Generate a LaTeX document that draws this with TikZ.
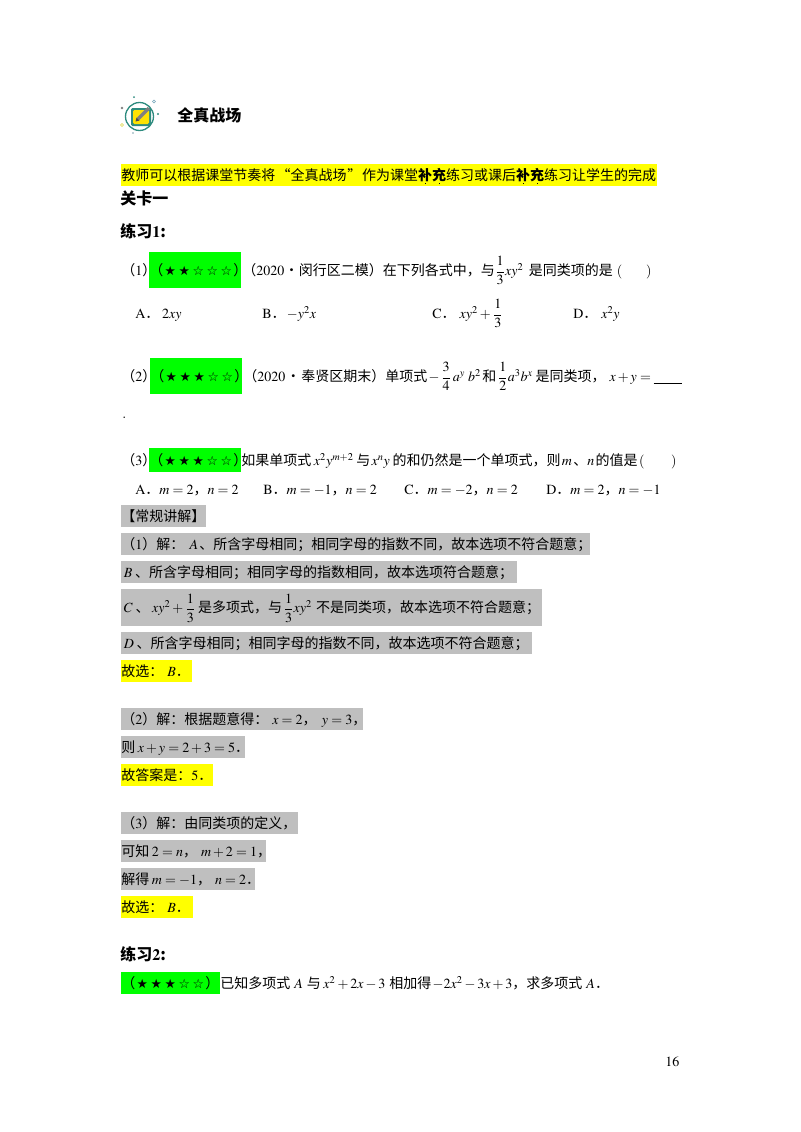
\documentclass[tikz,border=0pt]{standalone}
\usepackage{amsmath}
\usepackage{mathptmx}
\usepackage[no-math]{fontspec}
\setmainfont{Noto Sans CJK SC}
\newfontfamily\starfont{DejaVu Sans}
\definecolor{barcol}{HTML}{BFBFBF}
\definecolor{hlyellow}{HTML}{FFFF00}
\definecolor{hlgreen}{HTML}{00FF00}
\definecolor{ringcol}{HTML}{2E8B7F}
\newcommand{\bs}{\makebox[1em]{\starfont\fontsize{9.5}{10}\selectfont ★}}
\newcommand{\ws}{\makebox[1em]{\starfont\fontsize{9.5}{10}\selectfont ☆}}
\newcommand{\emdot}[1]{\rlap{\raisebox{-2.5pt}{\makebox[1em]{\rule{0.8pt}{0.8pt}}}}\textbf{#1}}
\newcommand{\gap}[1]{\hspace{#1pt}}
\tikzstyle{txt} = [anchor=west, inner sep=0pt, text height=10pt, text depth=2pt,
	font=\fontsize{10.5}{12}\selectfont]
\tikzstyle{head} = [txt, font=\fontsize{12}{12}\selectfont\bfseries]
\tikzstyle{graybar} = [txt, fill=barcol, text width=#1*0.75pt, minimum height=16.5pt]
\tikzstyle{yellowbar} = [txt, fill=hlyellow, text width=#1*0.75pt, minimum height=16.5pt]
\tikzstyle{greenbox} = [txt, fill=hlgreen, text width=#1*0.75pt, minimum height=27.5pt]
\begin{document}
\begin{tikzpicture}[x=0.75pt, y=-0.75pt]
	\useasboundingbox (0,0) rectangle (800,1132);

	\draw [ringcol, line width=1pt] (139.5,116.5) circle (14);
	\fill [ringcol, rounded corners=1pt] (131,108) rectangle (151,126);
	\fill [yellow!85!orange, rounded corners=1pt] (133,110) rectangle (149,124);
	\draw [gray, line width=2.6pt] (138,119) -- (149,108);
	\fill [gray!60!black] (135.5,121.5) -- (136.5,117.5) -- (139.5,120.5) -- cycle;
	\fill [ringcol] (134,97) circle (1);
	\fill [gray] (122,108) circle (1.3);
	\draw [cyan!40!gray, line width=0.4pt] (154,101.5) circle (1.5);
	\fill [ringcol] (158,114) circle (1.1);
	\draw [yellow!70!gray, line width=0.4pt] (122,125) circle (1.5);
	\fill [cyan!30!gray] (133,133) circle (0.8);

	\node [head] (title) at (177,116) {全真战场};
	\node [yellowbar=536] (intro) at (121,175) {教师可以根据课堂节奏将\makebox[1.1em][r]{“}全真战场\makebox[1.1em]{”}作为课堂\emdot{补}\emdot{充}练习或课后\emdot{补}\emdot{充}练习让学生的完成};
	\node [head] (gate) at (120,199) {关卡一};
	\node [head] (ex1) at (120,232) {练习$\mathbf{1}$:};

	\node [txt] (q1no) at (121,270) {（$1$）};
	\node [greenbox=92] (q1star) at (149,270) {（\bs\bs\ws\ws\ws）};
	\node [txt] (q1) at (242,270) {（$2020$\makebox[11pt]{•}闵行区二模）在下列各式中，与$\dfrac{1}{3}xy^2$\gap{4}是同类项的是\gap{3}$($\gap{18}$)$};
	\node [txt] (q1a) at (135,313) {$\mathrm{A}$．\gap{2}$2xy$};
	\node [txt] (q1b) at (262,313) {$\mathrm{B}$．\gap{1}$-y^2x$};
	\node [txt] (q1c) at (432,313) {$\mathrm{C}$．\gap{3}$xy^2+\dfrac{1}{3}$};
	\node [txt] (q1d) at (573,313) {$\mathrm{D}$．\gap{3}$x^2y$};

	\node [txt] (q2no) at (121,376) {（$2$）};
	\node [greenbox=92] (q2star) at (150,376) {（\bs\bs\bs\ws\ws）};
	\node [txt] (q2) at (243,376) {（$2020$\makebox[12pt]{•}奉贤区期末）单项式\gap{1}$-\,\dfrac{3}{4}\,a^y\;b^2$\gap{1}和\gap{1}$\dfrac{1}{2}a^3b^x$\gap{2}是同类项，\gap{3}$x+y=$\gap{2}\rule[-1.5pt]{21pt}{0.4pt}};
	\node [txt] (q2end) at (122,413) {$.$};

	\node [txt] (q3no) at (121,460) {（$3$）};
	\node [greenbox=92, minimum height=18pt] (q3star) at (149,460) {（\bs\bs\bs\ws\ws）};
	\node [txt] (q3) at (241,460) {如果单项式\gap{2}$x^2y^{m+2}$\gap{2}与\gap{1}$x^ny$\gap{2}的和仍然是一个单项式，则\gap{1}$m$\gap{1}、$n$\gap{1}的值是\gap{1}$($\gap{20}$)$};
	\node [txt] (q3a) at (135,489) {$\mathrm{A}$．$m=2$，$n=2$};
	\node [txt] (q3b) at (263,489) {$\mathrm{B}$．$m=-1$，$n=2$};
	\node [txt] (q3c) at (404,489) {$\mathrm{C}$．$m=-2$，$n=2$};
	\node [txt] (q3d) at (546,489) {$\mathrm{D}$．$m=2$，$n=-1$};

	\node [graybar=85] (expl) at (121,516) {【常规讲解】};
	\node [graybar=469] (s1a) at (121,544) {（$1$）解：\gap{4}$A$\gap{1}、所含字母相同；相同字母的指数不同，故本选项不符合题意；};
	\node [graybar=396] (s1b) at (121,572) {\gap{2}$B$\gap{2}、所含字母相同；相同字母的指数相同，故本选项符合题意；};
	\node [graybar=421, minimum height=28pt] (s1c) at (121,607.5) {\gap{2}$C$\gap{2}、\gap{2}$xy^2+\dfrac{1}{3}$\gap{2}是多项式，与\gap{1}$\dfrac{1}{3}xy^2$\gap{3}不是同类项，故本选项不符合题意；};
	\node [graybar=411] (s1d) at (121,643) {\gap{2}$D$\gap{2}、所含字母相同；相同字母的指数不同，故本选项不符合题意；};
	\node [yellowbar=71] (s1e) at (121,671) {\mbox{故选：\gap{3}$B$．}};

	\node [graybar=242] (s2a) at (121,719) {\mbox{（$2$）解：根据题意得：\gap{3}$x=2$，\gap{4}$y=3$，}};
	\node [graybar=124] (s2b) at (121,747) {\mbox{则\gap{2}$x+y=2+3=5$．}};
	\node [yellowbar=92] (s2c) at (121,775) {\mbox{故答案是：$5$．}};

	\node [graybar=177] (s3a) at (121,823) {（$3$）解：由同类项的定义，};
	\node [graybar=145] (s3b) at (121,851) {\mbox{可知\gap{2}$2=n$，\gap{3}$m+2=1$，}};
	\node [graybar=134] (s3c) at (121,879) {\mbox{解得\gap{2}$m=-1$，\gap{3}$n=2$．}};
	\node [yellowbar=72] (s3d) at (121,907) {\mbox{故选：\gap{3}$B$．}};

	\node [head] (ex2) at (120,955) {练习$\mathbf{2}$:};
	\node [greenbox=99, minimum height=16.5pt] (q4star) at (121,983) {（\bs\bs\bs\ws\ws）};
	\node [txt] (q4) at (220,983) {已知多项式\gap{3}$A$\gap{3}与\gap{2}$x^2+2x-3$\gap{3}相加得\gap{1}$-2x^2-3x+3$，求多项式\gap{3}$A$．};

	\node [txt] (pageno) at (665,1061) {$16$};
\end{tikzpicture}
\end{document}
